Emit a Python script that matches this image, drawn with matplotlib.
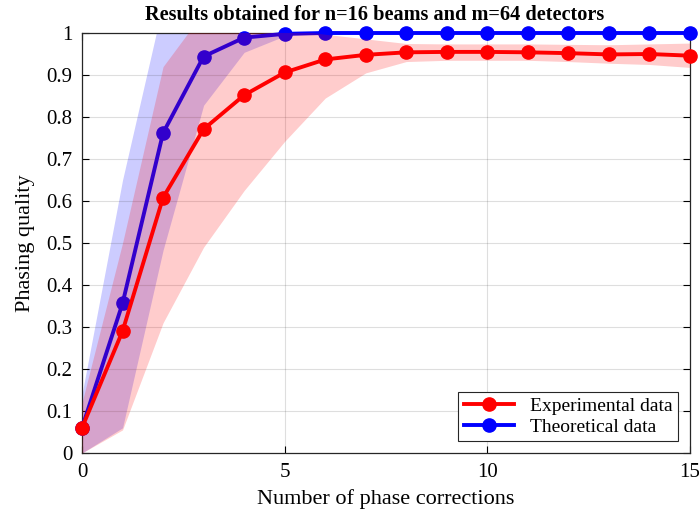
import numpy as np
import matplotlib
matplotlib.use("Agg")
import matplotlib.pyplot as plt

plt.rcParams['font.family'] = ['Liberation Serif', 'DejaVu Serif']

steps = list(range(16))

exp_mean = [0.06, 0.29, 0.608, 0.771, 0.852, 0.906, 0.937, 0.948, 0.954, 0.955,
            0.955, 0.954, 0.952, 0.949, 0.950, 0.946]
exp_low = [0.0, 0.055, 0.31, 0.49, 0.625, 0.742, 0.845, 0.905, 0.932, 0.935,
           0.935, 0.935, 0.932, 0.928, 0.925, 0.918]
exp_high = [0.12, 0.50, 0.92, 1.05, 1.04, 1.01, 0.997, 0.986, 0.975, 0.974,
            0.974, 0.974, 0.973, 0.972, 0.974, 0.976]

th_mean = [0.06, 0.356, 0.762, 0.944, 0.989, 0.998, 1.0, 1.0, 1.0, 1.0,
           1.0, 1.0, 1.0, 1.0, 1.0, 1.0]
th_low = [0.0, 0.06, 0.483, 0.828, 0.954, 0.993, 0.999, 1.0, 1.0, 1.0,
          1.0, 1.0, 1.0, 1.0, 1.0, 1.0]
th_high = [0.14, 0.65, 1.07, 1.1, 1.1, 1.1, 1.1, 1.1, 1.1, 1.1,
           1.1, 1.1, 1.1, 1.1, 1.1, 1.1]

fig = plt.figure(figsize=(6.99, 5.13), dpi=100)
ax = fig.add_axes([82/699, 60/513, 608/699, 420/513])

# theoretical band + line go first so the red band sits over them
ax.fill_between(steps, th_low, th_high, color=(0, 0, 1), alpha=0.2, lw=0)
th_line, = ax.plot(steps, th_mean, '-o', color=(0, 0, 1), lw=2.8, ms=9.5,
                   clip_on=False, zorder=3)
ax.fill_between(steps, exp_low, exp_high, color=(1, 0, 0), alpha=0.2, lw=0,
                zorder=3.5)
exp_line, = ax.plot(steps, exp_mean, '-o', color=(1, 0, 0), lw=2.8, ms=9.5,
                    clip_on=False, zorder=4)

ax.set_xlim(0, 15)
ax.set_ylim(0, 1)
ax.set_xticks([0, 5, 10, 15])
ax.set_yticks(np.arange(0, 1.01, 0.1))
ax.set_yticklabels(['0', '0.1', '0.2', '0.3', '0.4', '0.5', '0.6', '0.7',
                    '0.8', '0.9', '1'])
ax.tick_params(direction='in', top=True, right=True, labelsize=15,
               length=5, width=0.8, pad=7)
ax.grid(True, color='#262626', alpha=0.15, lw=0.8)
for s in ax.spines.values():
    s.set_linewidth(0.9)
    s.set_color('#262626')

ax.set_xlabel('Number of phase corrections', fontsize=16, labelpad=5)
ax.set_ylabel('Phasing quality', fontsize=16, labelpad=8)
ax.set_title('Results obtained for n=16 beams and m=64 detectors',
             fontsize=14.6, fontweight='bold', pad=9, x=0.482)

leg = ax.legend([exp_line, th_line], ['Experimental data', 'Theoretical data'],
                loc='lower right', fontsize=14, fancybox=False,
                edgecolor='#262626', framealpha=1, borderaxespad=0.6,
                handlelength=2.6, borderpad=0.3, labelspacing=0.15)
leg.get_frame().set_linewidth(0.8)
leg.set_zorder(10)

fig.savefig('out.png', dpi=100)
